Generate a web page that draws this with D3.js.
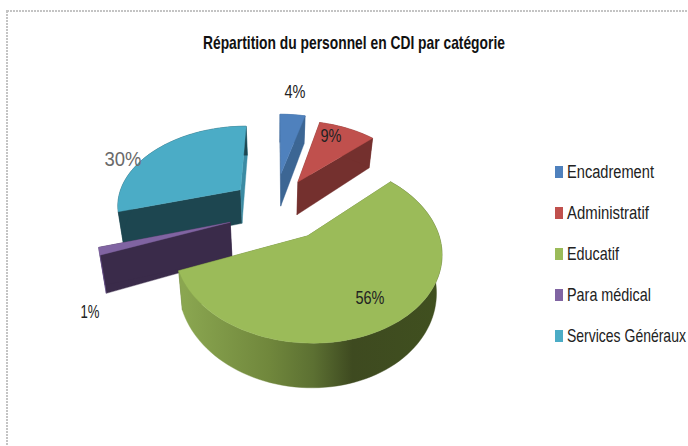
<!DOCTYPE html>
<html><head><meta charset="utf-8"><script src="https://cdn.jsdelivr.net/npm/d3@7"></script>
<style>html,body{margin:0;padding:0;background:#fff;overflow:hidden}svg{display:block}</style></head>
<body><svg id="c" width="688" height="446"></svg>
<script>
const categories = ["Encadrement","Administratif","Educatif","Para médical","Services Généraux"];
const values = [4,9,56,1.4,29.6];
const percentLabels = ["4%","9%","56%","1%","30%"];
const colors = ["#4f81bd","#c0504d","#9bbb59","#8064a2","#4bacc6"];
const startWall = ["#3c6694","#74302e","#5f7535","#3a2b4a","#1d4650"];
const endWall = ["#3c6694","#74302e","#5f7535","#3a2b4a","#3b8ba3"];
const outerWall = ["#3c6694","#74302e","url(#gw)","#6b5090","#1d4650"];
const explode = [0.48,0.45,0.35,0.42,0.42];
const nudgeX = [-7,-10,2,0,0];
const nudgeY = [-2,0,0,0,-2];
const drawOrder = [4,0,1,3,2];

const W=688,H=446, cx=281, cy=211, R=125, kR=80, d=6, depth=35, bottomShrink=0.965;
const svg=d3.select("#c");
const defs=svg.append("defs");
const g=defs.append("linearGradient").attr("id","gw").attr("gradientUnits","userSpaceOnUse")
  .attr("x1",182).attr("x2",441).attr("y1",0).attr("y2",0);
[[0,"#8aa650"],[0.33,"#70873c"],[0.5,"#5c7032"],[0.65,"#3e4a20"],[1,"#40501f"]]
  .forEach(s=>g.append("stop").attr("offset",s[0]).attr("stop-color",s[1]));

svg.append("rect").attr("x",7).attr("y",11).attr("width",W+20).attr("height",H+20)
  .attr("fill","none").attr("stroke","#c4c4c4").attr("stroke-width",2).attr("stroke-dasharray","2 1");

const proj=(u,v,z)=>{const s=d/(d-v), f=z>0?bottomShrink:1;return [cx+R*u*s*f, cy+kR*v*s+z*s];};
const pie=d3.pie().sort(null).value(v=>v);
const arcs=pie(values);
const line=d3.line();

function slice(a,i){
  const mid=(a.startAngle+a.endAngle)/2, e=explode[i];
  const ox=e*Math.sin(mid), oy=-e*Math.cos(mid);
  const P=(th,r,z)=>proj(ox+r*Math.sin(th),oy-r*Math.cos(th),z);
  const n=Math.max(2,Math.ceil((a.endAngle-a.startAngle)/0.04));
  const ths=d3.range(n+1).map(t=>a.startAngle+(a.endAngle-a.startAngle)*t/n);
  const top=ths.map(t=>P(t,1,0)), bot=ths.map(t=>P(t,1,depth));
  return {i,top,bot,apex:P(0,0,0),apexB:P(0,0,depth)};
}
const slices=arcs.map(slice);
const layer=svg.append("g");
drawOrder.forEach(i=>{
  const s=slices[i], gi=layer.append("g").attr("transform",`translate(${nudgeX[i]},${nudgeY[i]})`);
  const poly=(pts,f)=>gi.append("path").attr("d",line(pts)+"Z").attr("fill",f).attr("stroke",f).attr("stroke-width",0.4);
  poly([s.apex,s.top[0],s.bot[0],s.apexB],startWall[i]);
  poly([s.apex,s.top[s.top.length-1],s.bot[s.bot.length-1],s.apexB],endWall[i]);
  poly(s.top.concat(s.bot.slice().reverse()),outerWall[i]);
  poly([s.apex].concat(s.top),colors[i]);
});

const font="'Liberation Sans',sans-serif";
function label(t,x,y,w,size,fill,weight,anchor){
  const el=svg.append("text").attr("text-anchor","start")
    .attr("font-family",font).attr("font-size",size).attr("fill",fill).attr("font-weight",weight||"normal").text(t);
  const sx=w/el.node().getComputedTextLength();
  const x0=anchor==="start"?x:x-w/2;
  el.attr("transform",`translate(${x0},${y}) scale(${sx},1)`);
  return el;
}
label("Répartition du personnel en CDI par catégorie",354,49,302,18,"#111","bold");
const labelPos=[[295,98,21,18],[331,142,21,18],[370,304,29,18],[90,318,19,18],[123,166,37,20]];
percentLabels.forEach((t,i)=>{const p=labelPos[i];label(t,p[0],p[1],p[2],p[3],i==4?"#6a6a6a":"#222");});

const ly=d3.scalePoint().domain(categories).range([172,336]);
const lw=[87,82,52,84,119];
categories.forEach((c,i)=>{
  svg.append("rect").attr("x",555).attr("y",ly(c)-6).attr("width",8).attr("height",12).attr("fill",colors[i]);
  label(c,567,ly(c)+6,lw[i],18,"#222","normal","start");
});
</script></body></html>
